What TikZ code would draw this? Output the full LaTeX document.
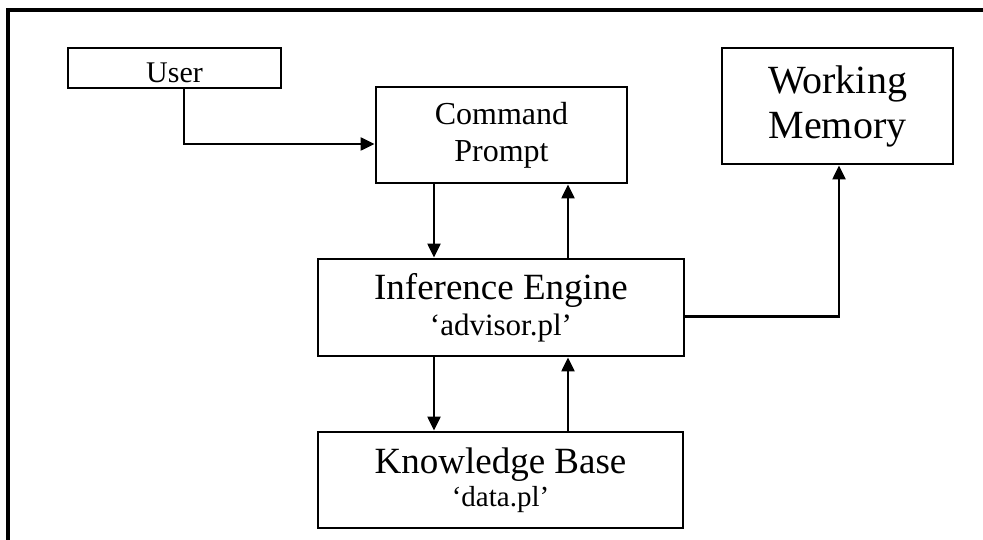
\documentclass[tikz,border=0pt]{standalone}
\usepackage{fontspec}
\setmainfont{Liberation Serif}
\usepackage{tikz}
\usetikzlibrary{positioning, arrows.meta}

\begin{document}
\begin{tikzpicture}[
    x=10pt, y=-10pt,
    box/.style={draw, line width=2.8pt, inner sep=0pt, align=center},
    arr/.style={-{Triangle[length=14pt, width=13pt]}, line width=2.2pt},
    frame/.style={line width=3.4pt},
]
\useasboundingbox (0, 0) rectangle (98.3, 54);

% === outer frame (top and left only) ===
\draw[frame] (0.8, 54) -- (0.8, 1.0) -- (98.3, 1.0);

% === boxes ===
\node[box, minimum width=213pt, minimum height=40pt, text height=30pt, text depth=0pt,
      font=\fontsize{30}{36}\selectfont] at (17.45, 6.8) (user) {User};
\node[box, minimum width=251pt, minimum height=96pt,
      font=\fontsize{32}{37}\selectfont] at (50.15, 13.5) (cmd) {Command\\Prompt};
\node[box, minimum width=231pt, minimum height=116pt,
      font=\fontsize{40}{45}\selectfont] at (83.75, 10.6) (wm) {Working\\Memory};
\node[box, minimum width=366pt, minimum height=97pt,
      font=\fontsize{37}{36}\selectfont] at (50.1, 30.75) (ie)
      {Inference Engine\\{\fontsize{31}{36}\selectfont `advisor.pl'}};
\node[box, minimum width=365pt, minimum height=96pt,
      font=\fontsize{37}{33}\selectfont] at (50.05, 48.0) (kb)
      {Knowledge Base\\{\fontsize{29}{33}\selectfont `data.pl'}};

% columns of the vertical arrows
\coordinate (dn) at (43.4, 0);
\coordinate (up) at (56.8, 0);

% === connectors ===
\draw[arr] ([xshift=9.5pt]user.south) |- ([yshift=-9pt]cmd.west);
\draw[arr] (cmd.south -| dn) -- (ie.north -| dn);
\draw[arr] (ie.north -| up) -- (cmd.south -| up);
\draw[arr] (ie.south -| dn) -- (kb.north -| dn);
\draw[arr] (kb.north -| up) -- (ie.south -| up);
\draw[arr] ([yshift=-9pt]ie.east) -| ([xshift=1.5pt]wm.south);

\end{tikzpicture}
\end{document}
